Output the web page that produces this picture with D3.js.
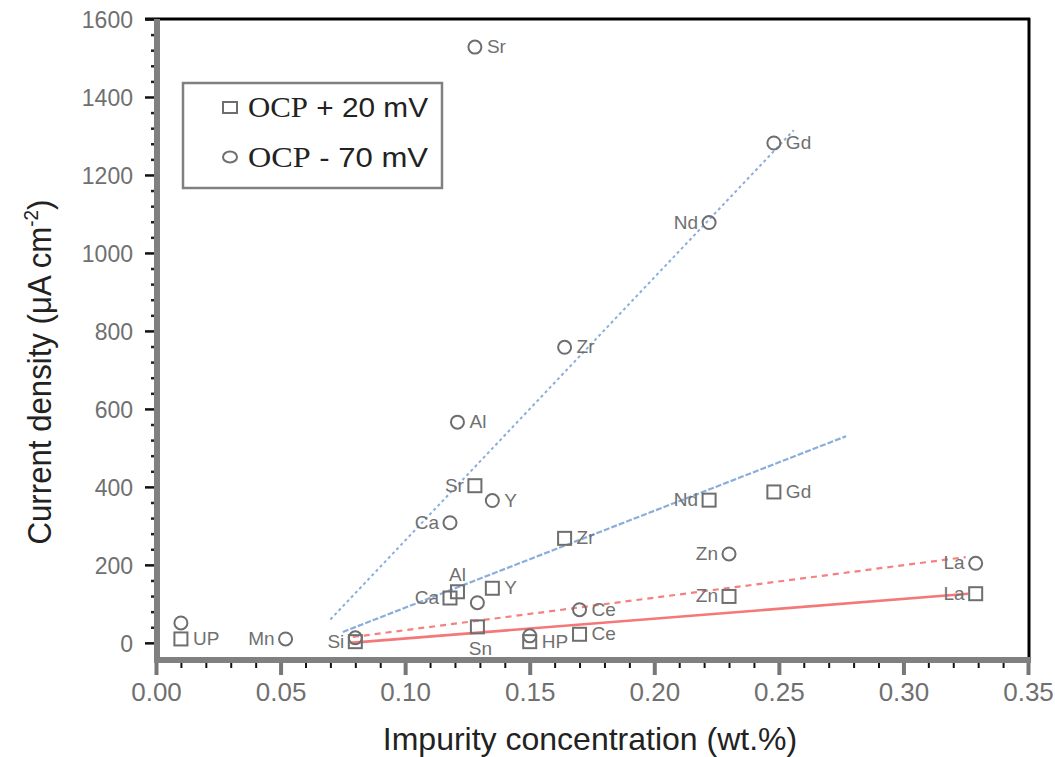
<!DOCTYPE html>
<html>
<head>
<meta charset="utf-8">
<script src="https://cdnjs.cloudflare.com/ajax/libs/d3/7.8.5/d3.min.js"></script>
<style>
  html, body { margin: 0; padding: 0; background: #fff; }
  svg { display: block; }
</style>
</head>
<body>
<svg id="chart" width="1055" height="757"></svg>
<script>
// ---------------- data ----------------
const elements = ["UP","Mn","Si","Ca","Al","Sr","Sn","Y","HP","Zr","Ce","Nd","Zn","Gd","La"];
const conc     = [0.010,0.052,0.080,0.118,0.121,0.128,0.129,0.135,0.150,0.164,0.170,0.222,0.230,0.248,0.329];
// OCP + 20 mV (squares)
const cdPlus   = [10, null, 3, 115, 131, 403, 41, 140, 3, 268, 22, 366, 119, 387, 126];
// OCP - 70 mV (circles)
const cdMinus  = [51, 10, 13, 308, 566, 1528, 103, 365, 18, 758, 85, 1078, 228, 1282, 204];
// label side for each point
const labelPlus  = ["right",null,"left","left","above","left","below","right","right","right","right","left","left","right","left"];
const labelMinus = [null,"left",null,"left","right","right",null,"right",null,"right","right","left","left","right","left"];
// trend lines [x, y] endpoints
const fitMinusBlue = [[0.070, 60], [0.256, 1315]];
const fitPlusBlue  = [[0.075, 28], [0.277, 530]];
const fitMinusRed  = [[0.079, 15], [0.325, 220]];
const fitPlusRed   = [[0.078, 0],  [0.326, 126]];
const xTicks = [0, 0.05, 0.10, 0.15, 0.20, 0.25, 0.30, 0.35];
const yTicks = [0, 200, 400, 600, 800, 1000, 1200, 1400, 1600];
const legendPrefix = "OCP";
const legendSuffixes = ["+ 20 mV", "- 70 mV"];

// ---------------- chart ----------------
const svg = d3.select("#chart");
const FONT = "'Liberation Sans', Arial, sans-serif";
const SERIF = "'Liberation Serif', 'Times New Roman', serif";
const x = d3.scaleLinear().domain([0, 0.35]).range([156, 1028]);
const y = d3.scaleLinear().domain([-44, 1600]).range([660, 19]);

// trend lines
const line = d3.line().x(d => x(d[0])).y(d => y(d[1]));
svg.append("path").attr("d", line(fitMinusBlue)).attr("fill","none")
  .attr("stroke","#8aaedb").attr("stroke-width",2).attr("stroke-dasharray","3,3");
svg.append("path").attr("d", line(fitPlusBlue)).attr("fill","none")
  .attr("stroke","#8aaedb").attr("stroke-width",2.2).attr("stroke-dasharray","6,2");
svg.append("path").attr("d", line(fitMinusRed)).attr("fill","none")
  .attr("stroke","#f58080").attr("stroke-width",2.2).attr("stroke-dasharray","6,5");
svg.append("path").attr("d", line(fitPlusRed)).attr("fill","none")
  .attr("stroke","#f47878").attr("stroke-width",2.6);

// points
const pts = elements.map((e, i) => ({e, x: conc[i], p: cdPlus[i], m: cdMinus[i], lp: labelPlus[i], lm: labelMinus[i]}));
const MK = "#6e6e6e";
svg.append("g").selectAll("rect").data(pts.filter(d => d.p !== null)).join("rect")
  .attr("x", d => x(d.x) - 6.5).attr("y", d => y(d.p) - 6.5)
  .attr("width", 13).attr("height", 13)
  .attr("fill", "none").attr("stroke", MK).attr("stroke-width", 2);
svg.append("g").selectAll("circle").data(pts.filter(d => d.m !== null)).join("circle")
  .attr("cx", d => x(d.x)).attr("cy", d => y(d.m)).attr("r", 6.5)
  .attr("fill", "none").attr("stroke", MK).attr("stroke-width", 2);

// point labels
function placeLabel(g, d, side, val) {
  const px = x(d.x), py = y(val);
  const t = g.append("text").text(d.e)
    .attr("font-family", FONT).attr("font-size", 19).attr("fill", "#707070");
  if (side === "right") t.attr("x", px + 12).attr("y", py + 6).attr("text-anchor", "start");
  else if (side === "left") t.attr("x", px - 11).attr("y", py + 6).attr("text-anchor", "end");
  else if (side === "above") t.attr("x", px).attr("y", py - 11).attr("text-anchor", "middle");
  else if (side === "below") t.attr("x", px + 3).attr("y", py + 28).attr("text-anchor", "middle");
}
const lg = svg.append("g");
pts.forEach(d => {
  if (d.lp && d.p !== null) placeLabel(lg, d, d.lp, d.p);
  if (d.lm && d.m !== null) placeLabel(lg, d, d.lm, d.m);
});

// frame: top & right black
svg.append("line").attr("x1", 145).attr("x2", 1030).attr("y1", 19).attr("y2", 19)
  .attr("stroke", "#000").attr("stroke-width", 3);
svg.append("line").attr("x1", 1029).attr("x2", 1029).attr("y1", 18).attr("y2", 658)
  .attr("stroke", "#000").attr("stroke-width", 3);

// minor ticks
const yMinor = d3.range(0, 1601, 40).filter(v => v % 200 !== 0);
const xMinor = d3.range(1, 35).filter(v => v % 5 !== 0).map(v => v / 100);
svg.append("g").attr("transform", "translate(157,0)")
  .call(d3.axisLeft(y).tickValues(yMinor).tickSize(6).tickFormat(""))
  .call(g => g.select(".domain").remove())
  .call(g => g.selectAll("line").attr("stroke", "#222").attr("stroke-width", 2.5));
svg.append("g").attr("transform", "translate(0,660)")
  .call(d3.axisBottom(x).tickValues(xMinor).tickSize(8).tickFormat(""))
  .call(g => g.select(".domain").remove())
  .call(g => g.selectAll("line").attr("stroke", "#111").attr("stroke-width", 2));

// major axes
svg.append("g").attr("transform", "translate(157,0)")
  .call(d3.axisLeft(y).tickValues(yTicks).tickSize(12).tickPadding(12).tickFormat(d3.format("d")))
  .call(g => g.select(".domain").remove())
  .call(g => g.selectAll("line").attr("stroke", "#111").attr("stroke-width", 2.5))
  .call(g => g.selectAll("text").attr("font-family", FONT).attr("font-size", 23)
      .attr("fill", "#707070").attr("dy", "0.36em"));
svg.append("g").attr("transform", "translate(0,660)")
  .call(d3.axisBottom(x).tickValues(xTicks).tickSize(15).tickPadding(8).tickFormat(d3.format(".2f")))
  .call(g => g.select(".domain").remove())
  .call(g => g.selectAll("line").attr("stroke", "#777").attr("stroke-width", 4))
  .call(g => g.selectAll("text").attr("font-family", FONT).attr("font-size", 26)
      .attr("fill", "#707070"));

// axis lines (gray, thick)
svg.append("line").attr("x1", 157).attr("x2", 157).attr("y1", 19).attr("y2", 663)
  .attr("stroke", "#808080").attr("stroke-width", 6);
svg.append("line").attr("x1", 154).attr("x2", 1031).attr("y1", 660).attr("y2", 660)
  .attr("stroke", "#808080").attr("stroke-width", 6);

// axis titles
svg.append("text").attr("x", 590).attr("y", 750).attr("text-anchor", "middle")
  .attr("font-family", FONT).attr("font-size", 32).attr("fill", "#222")
  .text("Impurity concentration (wt.%)");
const yt = svg.append("text").attr("transform", "translate(51,372) rotate(-90)")
  .attr("text-anchor", "middle").attr("font-family", FONT).attr("font-size", 33)
  .attr("fill", "#222").attr("textLength", 345).attr("lengthAdjust", "spacingAndGlyphs");
yt.append("tspan").text("Current density (\u03bcA cm");
yt.append("tspan").text("-2").attr("font-size", 20).attr("dy", -13);
yt.append("tspan").text(")").attr("dy", 13);

// legend
svg.append("rect").attr("x", 183).attr("y", 83).attr("width", 259).attr("height", 105)
  .attr("fill", "#fff").attr("stroke", "#808080").attr("stroke-width", 2.5);
svg.append("rect").attr("x", 223).attr("y", 102).attr("width", 14).attr("height", 11)
  .attr("fill", "none").attr("stroke", MK).attr("stroke-width", 2);
svg.append("ellipse").attr("cx", 230).attr("cy", 157).attr("rx", 7).attr("ry", 5.5)
  .attr("fill", "none").attr("stroke", MK).attr("stroke-width", 2);
legendSuffixes.forEach((s, i) => {
  const t = svg.append("text").attr("x", 248).attr("y", 117 + i * 50)
    .attr("font-size", 28).attr("fill", "#222")
    .attr("textLength", 180).attr("lengthAdjust", "spacingAndGlyphs");
  t.append("tspan").attr("font-family", SERIF).attr("font-size", 29).text(legendPrefix);
  t.append("tspan").attr("font-family", FONT).text(" " + s);
});
</script>
</body>
</html>
